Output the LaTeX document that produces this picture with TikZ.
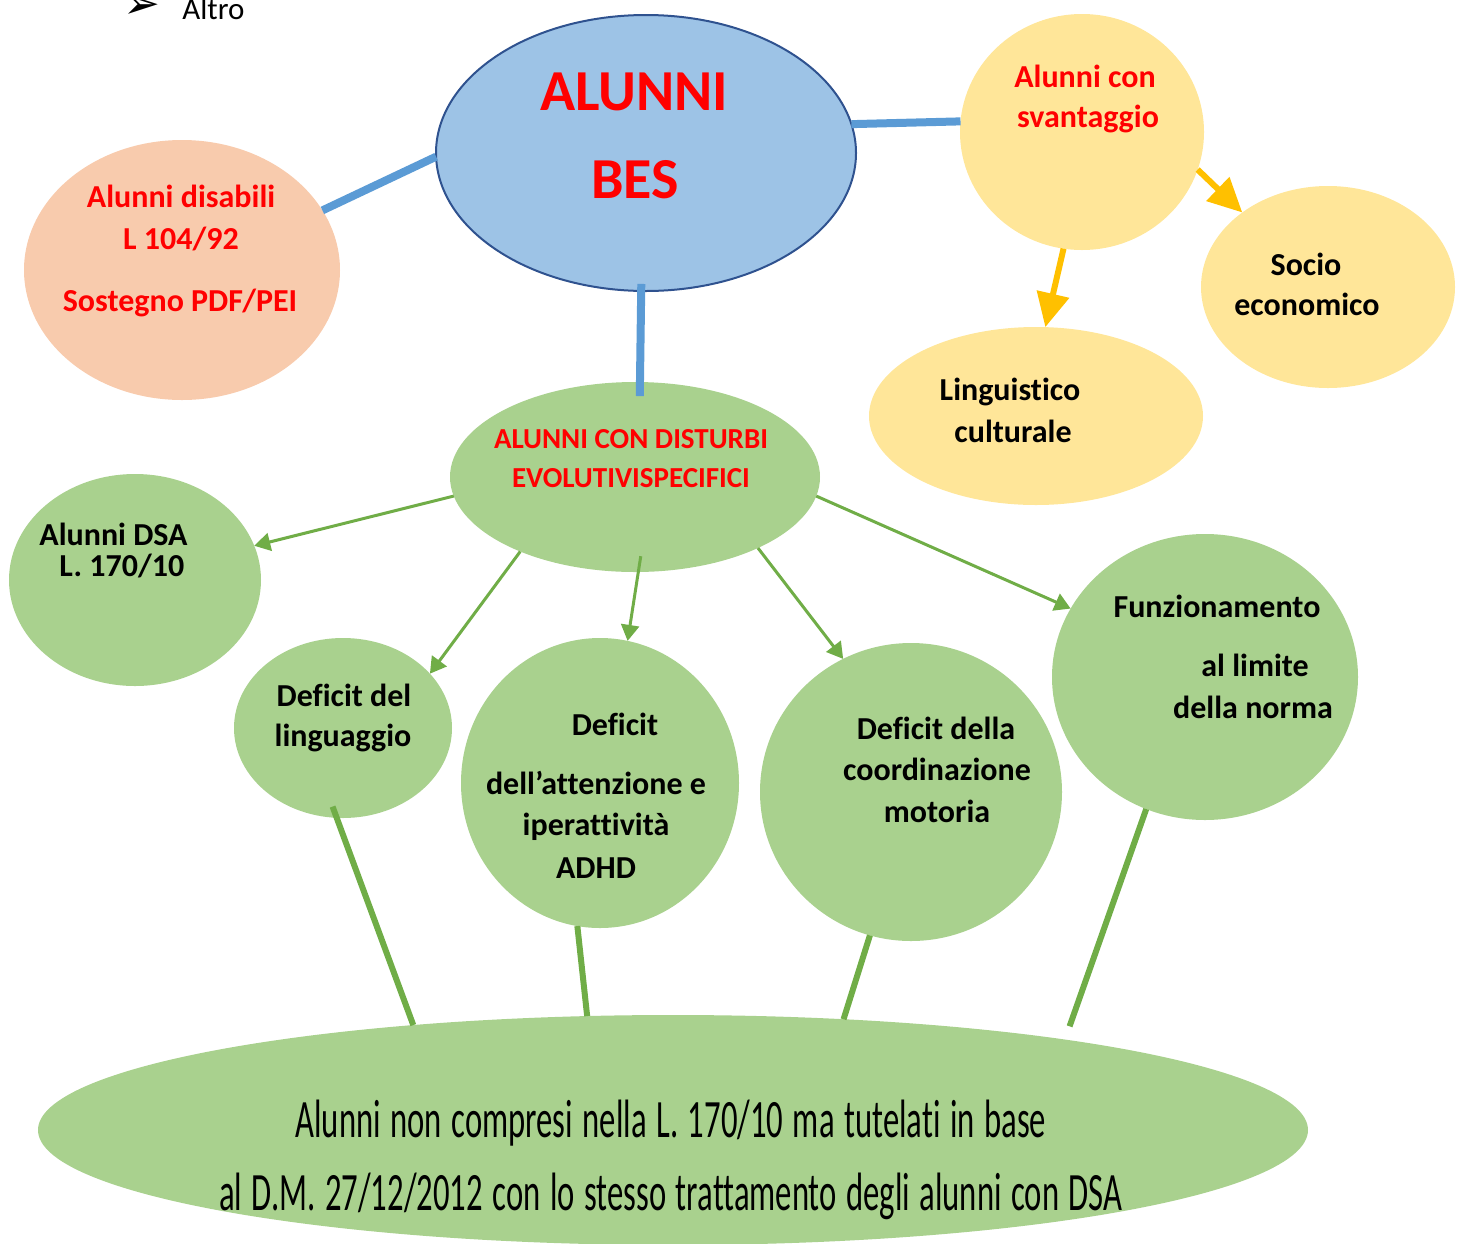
\documentclass[tikz,border=0pt]{standalone}
\usepackage{fontspec}
\setmainfont{Carlito}[Ligatures=NoCommon]
\newfontfamily\condfont[FakeStretch=0.605,Ligatures=NoCommon,WordSpace=1.3]{Carlito}
\newfontfamily\symfont{DejaVu Sans}
\usetikzlibrary{shapes.geometric,arrows.meta}
\definecolor{bluefill}{HTML}{9DC3E6}
\definecolor{blueline}{HTML}{2F528F}
\definecolor{bluecon}{HTML}{5B9BD5}
\definecolor{peach}{HTML}{F8CBAD}
\definecolor{yell}{HTML}{FFE699}
\definecolor{grn}{HTML}{A9D18E}
\definecolor{grnline}{HTML}{70AD47}
\definecolor{orng}{HTML}{FFC000}
\definecolor{redtxt}{HTML}{FF0000}
\begin{document}
\begin{tikzpicture}[x=0.5pt,y=-0.5pt,
  blob/.style={ellipse, inner sep=0pt, outer sep=0pt, draw=none},
  lbl/.style={anchor=base, inner sep=0pt, font=\fontsize{16}{19}\selectfont\bfseries, text=black},
  redlbl/.style={lbl, text=redtxt},
  biglbl/.style={anchor=base, inner sep=0pt, font=\fontsize{29}{34}\selectfont\bfseries, text=redtxt},
  smallred/.style={anchor=base, inner sep=0pt, font=\fontsize{14.5}{17}\selectfont\bfseries, text=redtxt},
  condlbl/.style={anchor=base, inner sep=0pt, font=\condfont\fontsize{27}{30}\selectfont},
  blueconn/.style={draw=bluecon, line width=4pt},
  orarrow/.style={draw=orng, line width=3pt, -{Triangle[length=17pt,width=16pt]}},
  garrow/.style={draw=grnline, line width=1.5pt, -{Triangle[length=8pt,width=9pt]}},
  gstem/.style={draw=grnline, line width=3pt}]
\useasboundingbox (0,0) rectangle (1462,1243);
\clip (0,0) rectangle (1462,1243);

% shapes
\node[blob, fill=bluefill, draw=blueline, line width=1pt, minimum width=210pt, minimum height=138pt] (B) at (646,153) {};
\node[blob, fill=peach, minimum width=158pt, minimum height=130pt] (P) at (182,270) {};
\node[blob, fill=yell, minimum width=122pt, minimum height=118pt] (Y1) at (1082,132) {};
\node[blob, fill=yell, minimum width=127pt, minimum height=101pt] (Y2) at (1328,287) {};
\node[blob, fill=yell, minimum width=167pt, minimum height=89pt] (Y3) at (1036,416) {};
\node[blob, fill=grn, minimum width=185pt, minimum height=95pt] (G) at (635,477) {};
\node[blob, fill=grn, minimum width=126pt, minimum height=106pt] (D) at (135,580) {};
\node[blob, fill=grn, minimum width=109pt, minimum height=90pt] (L) at (343,728) {};
\node[blob, fill=grn, minimum width=139pt, minimum height=145pt] (A) at (600,783) {};
\node[blob, fill=grn, minimum width=151pt, minimum height=149pt] (C) at (911,792) {};
\node[blob, fill=grn, minimum width=153pt, minimum height=143pt] (F) at (1205,677) {};
\node[blob, fill=grn, minimum width=635pt, minimum height=115pt] (E) at (673,1130) {};

% connectors
\draw[blueconn] (P.23) -- (B.181);
\draw[blueconn] (B.8) -- (Y1.175);
\draw[blueconn, shorten <=-3.5pt, shorten >=-7pt] (B.268) -- (G.87);
\draw[orarrow] (Y1.-18) -- (Y2.139);
\draw[orarrow] (Y1.261) -- (Y3.84);
\draw[garrow] (G.186) -- (D.16);
\draw[garrow] (G.213) -- (L.32);
\draw[garrow, shorten <=-8pt] (G.272) -- (A.79);
\draw[garrow] (G.-30) -- (C.117);
\draw[garrow] (G.-6) -- (F.153);
\draw[gstem, shorten <=-6pt] (L.266) -- (E.158);
\draw[gstem] (A.261) -- (E.127);
\draw[gstem] (C.254) -- (E.33);
\draw[gstem, shorten >=7pt] (F.246) -- (E.13.5);

% texts
\node[anchor=base west, inner sep=0pt, font=\symfont\fontsize{22}{24}\selectfont] (bul) at (123,18) {➢};
\node[anchor=base west, inner sep=0pt, font=\fontsize{15.5}{18}\selectfont] (altro) at (182,19) {Altro};

\node[biglbl] (b1) at (634,110) {ALUNNI};
\node[biglbl] (b2) at (635,198) {BES};

\node[redlbl] (p1) at (181,207) {Alunni disabili};
\node[redlbl] (p2) at (181,249) {L 104/92};
\node[redlbl] (p3) at (180,311) {Sostegno PDF/PEI};

\node[redlbl] (y11) at (1085,87) {Alunni con};
\node[redlbl] (y12) at (1088,127) {svantaggio};
\node[lbl] (y21) at (1306,275) {Socio};
\node[lbl] (y22) at (1307,315) {economico};
\node[lbl] (y31) at (1010,400) {Linguistico};
\node[lbl] (y32) at (1013,442) {culturale};

\node[smallred] (g1) at (631,448) {ALUNNI CON DISTURBI};
\node[smallred] (g2) at (631,487) {EVOLUTIVISPECIFICI};

\node[lbl, anchor=base west] (d1) at (39,545) {Alunni DSA};
\node[lbl, anchor=base west] (d2) at (59,576) {L. 170/10};

\node[lbl] (l1) at (344,706) {Deficit del};
\node[lbl] (l2) at (343,746) {linguaggio};

\node[lbl] (a1) at (615,735) {Deficit};
\node[lbl] (a2) at (596,794) {dell’attenzione e};
\node[lbl] (a3) at (596,835) {iperattività};
\node[lbl] (a4) at (596,878) {ADHD};

\node[lbl] (c1) at (936,739) {Deficit della};
\node[lbl] (c2) at (937,780) {coordinazione};
\node[lbl] (c3) at (937,822) {motoria};

\node[lbl] (f1) at (1217,617) {Funzionamento};
\node[lbl] (f2) at (1255,676) {al limite};
\node[lbl] (f3) at (1253,718) {della norma};

\node[condlbl] (e1) at (671,1137) {Alunni non compresi nella L. 170/10 ma tutelati in base};
\node[condlbl] (e2) at (671,1210) {al D.M. 27/12/2012 con lo stesso trattamento degli alunni con DSA};
\end{tikzpicture}
\end{document}
